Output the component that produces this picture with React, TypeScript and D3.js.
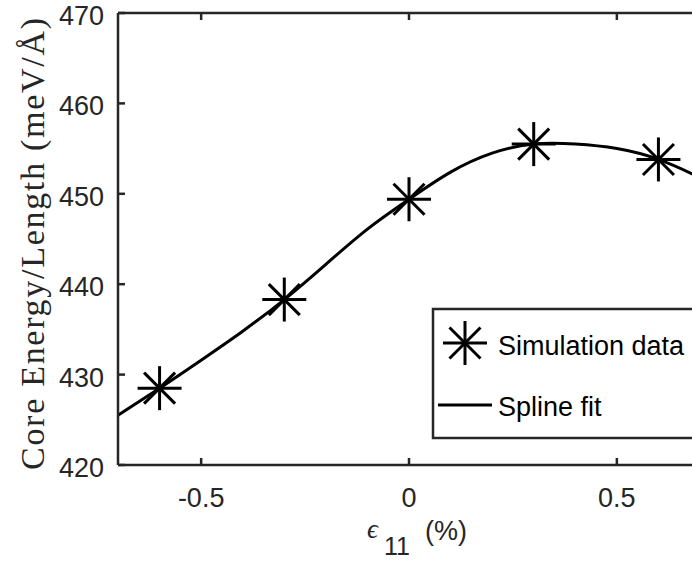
import React, { useEffect, useRef } from "react";
import * as d3 from "d3";

// simulation points
const simStrain = [-0.6, -0.3, 0, 0.3, 0.6];
const simEnergy = [428.5, 438.3, 449.4, 455.5, 453.8];

// spline fit
const splineStrain = [-0.7, -0.6, -0.5, -0.4, -0.3, -0.2, -0.1, 0, 0.1, 0.2, 0.3, 0.4, 0.5, 0.6, 0.7];
const splineEnergy = [425.5, 428.5, 431.6, 434.8, 438.3, 442.2, 446.1, 449.4, 452.4, 454.5, 455.5, 455.5, 455.0, 453.8, 451.8];

const xTicks = [-0.5, 0, 0.5];
const yTicks = [420, 430, 440, 450, 460, 470];
const legendLabels = ["Simulation data", "Spline fit"];

const width = 692;
const height = 563;
const axisColor = "#262626";
const sans = "'Liberation Sans', Arial, sans-serif";
const serif = "'Liberation Serif', 'DejaVu Serif', serif";

// MATLAB-style asterisk marker
function star(g: any, cx: number, cy: number) {
  const r = 22;
  const d = 15.5;
  const segs = [
    [-r, 0, r, 0],
    [0, -r, 0, r],
    [-d, -d, d, d],
    [-d, d, d, -d],
  ];
  segs.forEach((s) => {
    g.append("line")
      .attr("x1", cx + s[0])
      .attr("y1", cy + s[1])
      .attr("x2", cx + s[2])
      .attr("y2", cy + s[3])
      .attr("stroke", "#000")
      .attr("stroke-width", 3);
  });
}

export default function App() {
  const ref = useRef<SVGSVGElement>(null);

  useEffect(() => {
    const svg = d3.select(ref.current);
    svg.selectAll("*").remove();

    const x = d3.scaleLinear().domain([-0.7, 0.7]).range([118, 700]);
    const y = d3.scaleLinear().domain([420, 470]).range([465, 13]);

    // spline curve
    const line = d3
      .line<number>()
      .x((d, i) => x(splineStrain[i]))
      .y((d) => y(d))
      .curve(d3.curveNatural);

    svg
      .append("path")
      .attr("d", line(splineEnergy))
      .attr("fill", "none")
      .attr("stroke", "#000")
      .attr("stroke-width", 3);

    const marks = svg.append("g");
    simStrain.forEach((s, i) => star(marks, x(s), y(simEnergy[i])));

    // axes box
    const ax = svg.append("g").attr("stroke", axisColor).attr("stroke-width", 2.5);
    ax.append("line").attr("x1", x(-0.7)).attr("x2", x(0.7)).attr("y1", y(420)).attr("y2", y(420));
    ax.append("line").attr("x1", x(-0.7)).attr("x2", x(0.7)).attr("y1", y(470)).attr("y2", y(470));
    ax.append("line").attr("x1", x(-0.7)).attr("x2", x(-0.7)).attr("y1", y(420)).attr("y2", y(470));

    xTicks.forEach((t) => {
      ax.append("line").attr("x1", x(t)).attr("x2", x(t)).attr("y1", y(420)).attr("y2", y(420) - 7);
      ax.append("line").attr("x1", x(t)).attr("x2", x(t)).attr("y1", y(470)).attr("y2", y(470) + 7);
    });
    yTicks.forEach((t) => {
      ax.append("line").attr("x1", x(-0.7)).attr("x2", x(-0.7) + 7).attr("y1", y(t)).attr("y2", y(t));
    });

    svg
      .append("g")
      .selectAll("text")
      .data(xTicks)
      .enter()
      .append("text")
      .attr("x", (d) => x(d))
      .attr("y", 507)
      .attr("text-anchor", "middle")
      .attr("font-family", sans)
      .attr("font-size", 27)
      .attr("fill", axisColor)
      .text((d) => String(d));

    svg
      .append("g")
      .selectAll("text")
      .data(yTicks)
      .enter()
      .append("text")
      .attr("x", 104)
      .attr("y", (d) => y(d) + 12)
      .attr("text-anchor", "end")
      .attr("font-family", sans)
      .attr("font-size", 27)
      .attr("fill", axisColor)
      .text((d) => String(d));

    // x label
    const xl = svg.append("g").attr("fill", axisColor);
    xl.append("text")
      .attr("x", 367)
      .attr("y", 538)
      .attr("font-family", serif)
      .attr("font-style", "italic")
      .attr("font-size", 27)
      .text("ϵ");
    xl.append("text")
      .attr("x", 384)
      .attr("y", 555)
      .attr("font-family", sans)
      .attr("font-size", 25)
      .text("11");
    xl.append("text")
      .attr("x", 425)
      .attr("y", 540)
      .attr("font-family", sans)
      .attr("font-size", 27)
      .text("(%)");

    // y label
    svg
      .append("text")
      .attr("transform", "translate(44,244) rotate(-90)")
      .attr("text-anchor", "middle")
      .attr("font-family", serif)
      .attr("font-size", 34)
      .attr("fill", axisColor)
      .attr("textLength", 452)
      .attr("lengthAdjust", "spacing")
      .text("Core Energy/Length (meV/Å)");

    // legend
    const lg = svg.append("g");
    lg.append("rect")
      .attr("x", 433)
      .attr("y", 309)
      .attr("width", 280)
      .attr("height", 129)
      .attr("fill", "#fff")
      .attr("stroke", axisColor)
      .attr("stroke-width", 2.5);
    star(lg, 465, 343);
    lg.append("line")
      .attr("x1", 438)
      .attr("x2", 492)
      .attr("y1", 405)
      .attr("y2", 405)
      .attr("stroke", "#000")
      .attr("stroke-width", 3);
    lg.selectAll("text.lab")
      .data(legendLabels)
      .enter()
      .append("text")
      .attr("class", "lab")
      .attr("x", 498)
      .attr("y", (d, i) => (i === 0 ? 355 : 416))
      .attr("font-family", sans)
      .attr("font-size", 27)
      .attr("fill", "#000")
      .text((d) => d);
  }, []);

  return (
    <svg
      ref={ref}
      width={width}
      height={height}
      style={{ position: "absolute", left: 0, top: 0, background: "#fff" }}
    />
  );
}
